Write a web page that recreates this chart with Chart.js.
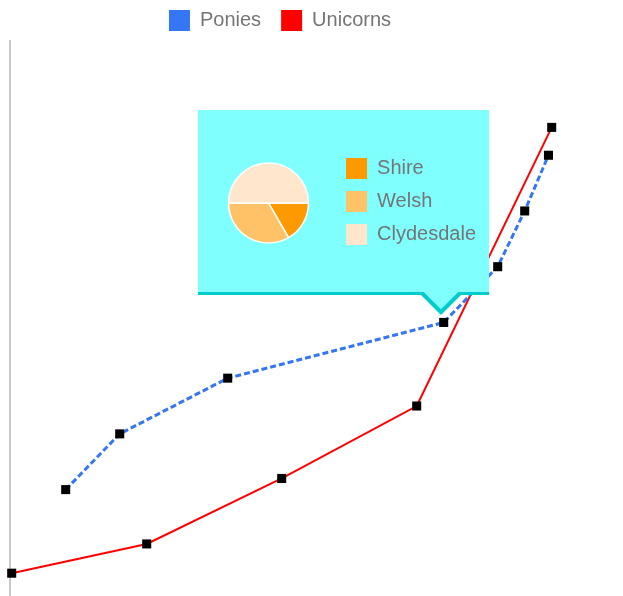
<!DOCTYPE html>
<html><head><meta charset="utf-8">
<script src="https://cdn.jsdelivr.net/npm/chart.js@4"></script>
<style>
html,body{margin:0;padding:0;background:#fff;}
#wrap{position:relative;width:623px;height:596px;overflow:hidden;}
#main{display:block;}
#tip{position:absolute;width:291px;height:182px;background:#80ffff;border-bottom:3px solid #00cccc;}
#pie{position:absolute;left:0;top:0;display:block;}
#caret{position:absolute;display:block;}
</style></head><body>
<div id="wrap">
<canvas id="main" width="623" height="603"></canvas>
<div id="tip"><canvas id="pie" width="291" height="182"></canvas></div>
<svg id="caret" width="46" height="24" viewBox="0 0 46 24"><polygon points="0,0 23,23 46,0" fill="#00cccc"/><polygon points="5.66,0 23,17.34 40.34,0" fill="#80ffff"/></svg>
</div>
<script>
// ---- data ----
const seriesNames = ['Ponies', 'Unicorns'];
const poniesX = [2, 4, 8, 16, 18, 19, 19.88];
const poniesY = [3, 5, 7, 9, 11, 13, 15];
const unicornsX = [0, 5, 10, 15, 20];
const unicornsY = [0, 1.05, 3.4, 6, 16];
const breedLabels = ['Shire', 'Welsh', 'Clydesdale'];
const breedValues = [10, 20, 30];
const tooltipSeries = 0;
const tooltipIndex = 3;

const FONT = "'Liberation Sans', Arial, Helvetica, sans-serif";
const TEXT = '#757575';
Chart.defaults.font.family = FONT;
Chart.defaults.color = TEXT;

const blue = '#3576f5';
const red = '#ff0000';

const mainChart = new Chart(document.getElementById('main'), {
  type: 'line',
  data: {
    datasets: [
      {
        label: seriesNames[0],
        data: poniesX.map((x, i) => ({x: x, y: poniesY[i]})),
        borderColor: blue, backgroundColor: blue,
        borderWidth: 3, borderDash: [6, 3],
        pointStyle: 'rect', pointRadius: 6.4, pointBorderWidth: 0,
        pointBackgroundColor: '#000', pointBorderColor: '#000',
        tension: 0, clip: false
      },
      {
        label: seriesNames[1],
        data: unicornsX.map((x, i) => ({x: x, y: unicornsY[i]})),
        borderColor: red, backgroundColor: red,
        borderWidth: 2,
        pointStyle: 'rect', pointRadius: 6.4, pointBorderWidth: 0,
        pointBackgroundColor: '#000', pointBorderColor: '#000',
        tension: 0, clip: false
      }
    ]
  },
  options: {
    responsive: false, animation: false, events: [],
    layout: {padding: {top: -10, left: 10, right: 73, bottom: 0}},
    scales: {
      x: {type: 'linear', display: false, min: -0.063, max: 19.937},
      y: {
        type: 'linear', min: -0.84, max: 19.1,
        grid: {display: false, drawTicks: false},
        ticks: {display: false},
        border: {display: true, color: '#c8c8c8', width: 2}
      }
    },
    plugins: {
      tooltip: {enabled: false},
      legend: {
        fullSize: false,
        labels: {
          boxWidth: 21, boxHeight: 21, padding: 20,
          color: TEXT, font: {size: 20, family: FONT},
          generateLabels: function (chart) {
            return chart.data.datasets.map((ds, i) => ({
              text: ds.label, fillStyle: ds.borderColor, strokeStyle: ds.borderColor,
              fontColor: TEXT, lineWidth: 0, lineDash: [], hidden: false, datasetIndex: i
            }));
          }
        }
      }
    }
  }
});

const pieColors = ['#ff9900', '#ffc266', '#ffe6cc'];
new Chart(document.getElementById('pie'), {
  type: 'pie',
  data: {
    labels: breedLabels,
    datasets: [{data: breedValues, backgroundColor: pieColors, borderColor: '#ffffff', borderWidth: 1.5, radius: 40}]
  },
  options: {
    responsive: false, animation: false, events: [],
    rotation: 90,
    layout: {padding: {left: 5, right: 3, top: 36, bottom: 32}},
    plugins: {
      tooltip: {enabled: false},
      legend: {
        position: 'right', align: 'start', maxWidth: 220,
        labels: {
          boxWidth: 21, boxHeight: 21, padding: 12,
          color: TEXT, font: {size: 20, family: FONT},
          generateLabels: function (chart) {
            const ds = chart.data.datasets[0];
            return chart.data.labels.map((t, i) => ({
              text: t, fillStyle: ds.backgroundColor[i], strokeStyle: ds.backgroundColor[i],
              fontColor: TEXT, lineWidth: 0, lineDash: [], hidden: false, index: i
            }));
          }
        }
      }
    }
  }
});

// place the custom tooltip at the active point
const pt = mainChart.getDatasetMeta(tooltipSeries).data[tooltipIndex];
const tip = document.getElementById('tip');
const caret = document.getElementById('caret');
tip.style.left = (pt.x - 245.7) + 'px';
tip.style.top = (pt.y - 212) + 'px';
caret.style.left = (pt.x - 25.7) + 'px';
caret.style.top = (pt.y - 212 + 182) + 'px';
</script>
</body></html>
